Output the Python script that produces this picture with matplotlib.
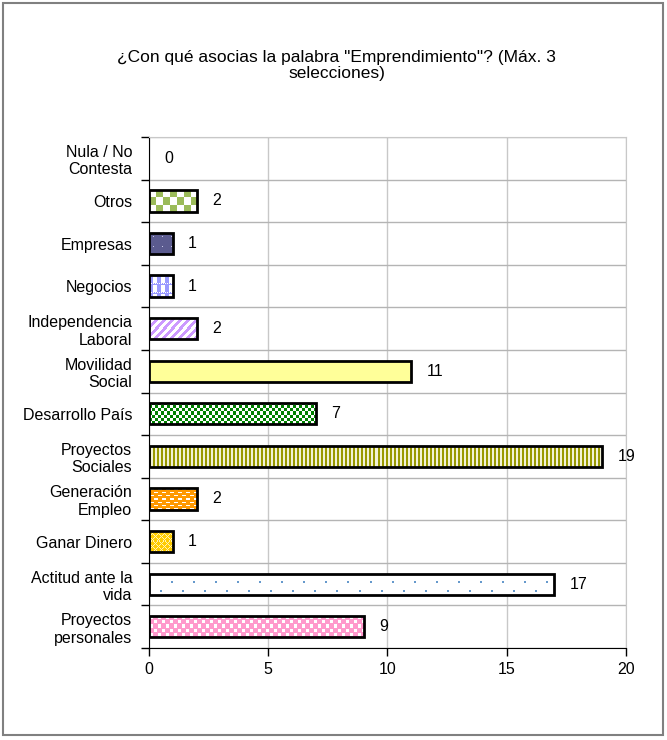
import matplotlib
matplotlib.use("Agg")
import matplotlib.pyplot as plt
from matplotlib.patches import Rectangle
from matplotlib.colors import to_rgb
import numpy as np

plt.rcParams['font.family'] = ['Liberation Sans', 'DejaVu Sans']

title = '¿Con qué asocias la palabra "Emprendimiento"? (Máx. 3\nselecciones)'

# top to bottom, as in the picture
categories = ["Nula / No\nContesta", "Otros", "Empresas", "Negocios",
              "Independencia\nLaboral", "Movilidad\nSocial", "Desarrollo País",
              "Proyectos\nSociales", "Generación\nEmpleo", "Ganar Dinero",
              "Actitud ante la\nvida", "Proyectos\npersonales"]
counts = [0, 2, 1, 1, 2, 11, 7, 19, 2, 1, 17, 9]


# small pixel tiles to imitate the Excel pattern fills
def checker(n):
    i, j = np.indices((2 * n, 2 * n))
    return ((i // n + j // n) % 2).astype(float)


def tile_empresas():
    m = np.zeros((9, 9))
    m[4, 4] = 1
    return m


def tile_negocios():
    m = np.zeros((8, 8))
    m[2:, 4:8] = 1
    m[0, ::2] = 1
    return m


def tile_diag():
    i, j = np.indices((8, 8))
    return (((i + j) % 8) < 4).astype(float)


def tile_vstripes():
    i, j = np.indices((4, 4))
    return ((j % 4) < 2).astype(float)


def tile_bricks():
    m = np.zeros((6, 8))
    m[1, 1:5] = 1
    m[4, 5:8] = 1
    m[4, 0] = 1
    return m


def tile_lattice():
    i, j = np.indices((6, 6))
    return (((i + j) % 6 == 0) | ((i - j) % 6 == 0)).astype(float)


def tile_dots():
    m = np.zeros((24, 22))
    m[8:10, 0:2] = 1
    m[16:18, 11:13] = 1
    return m


def tile_squares():
    m = np.zeros((8, 8))
    m[1:4, 1:4] = 1
    m[5:8, 5:8] = 1
    return m


# (background, pattern colour, tile) per bar
fills = [
    ("white", "white", None),
    ("white", "#9BBB59", checker(7)),
    ("#5B5B8F", "#C8C8E6", tile_empresas()),
    ("#9999FF", "white", tile_negocios()),
    ("white", "#CC99FF", tile_diag()),
    ("#FFFF99", "#FFFF99", None),
    ("white", "#008000", checker(3)),
    ("#F2F2D6", "#999900", tile_vstripes()),
    ("#FF9900", "white", tile_bricks()),
    ("#FFCC00", "#FFF3B8", tile_lattice()),
    ("white", "#6699CC", tile_dots()),
    ("#FF99CC", "white", tile_squares()),
]

fig = plt.figure(figsize=(6.67, 7.4), dpi=100)
ax = fig.add_axes([0.2234, 0.1243, 0.7151, 0.6905])
ax.set_xlim(0, 20)
ax.set_ylim(len(categories) - 0.5, -0.5)

ypos = np.arange(len(categories))
bar_h = 0.5
for y, v, (bg, fg, tile) in zip(ypos, counts, fills):
    if v == 0:
        continue
    bars = ax.barh(y, v, height=bar_h, color=bg, linewidth=0, zorder=3)
    if tile is not None:
        x0, y0 = ax.transData.transform((0, y - bar_h / 2))
        x1, y1 = ax.transData.transform((v, y + bar_h / 2))
        w = int(round(abs(x1 - x0)))
        h = int(round(abs(y1 - y0)))
        reps = (h // tile.shape[0] + 2, w // tile.shape[1] + 2)
        mask = np.tile(tile, reps)[:h, :w]
        b, f = np.array(to_rgb(bg)), np.array(to_rgb(fg))
        img = b[None, None, :] * (1 - mask[:, :, None]) + f[None, None, :] * mask[:, :, None]
        im = ax.imshow(img, extent=(0, v, y + bar_h / 2, y - bar_h / 2),
                       interpolation="nearest", aspect="auto", zorder=3.5)
        im.set_clip_path(bars[0])
    ax.barh(y, v, height=bar_h, facecolor="none", edgecolor="black", linewidth=2, zorder=4)

for y, v in zip(ypos, counts):
    ax.annotate(str(v), (v, y), xytext=(11, 0), textcoords="offset points",
                va="center", ha="left", fontsize=11.5, annotation_clip=False)

ax.set_xlim(0, 20)
ax.set_ylim(len(categories) - 0.5, -0.5)
ax.set_aspect("auto")
ax.set_xticks([0, 5, 10, 15, 20])
ax.set_yticks(ypos)
ax.set_yticklabels(categories, fontsize=11.5, linespacing=1.2)
ax.set_yticks(np.arange(len(categories) + 1) - 0.5, minor=True)
ax.tick_params(axis="y", which="major", length=0, pad=12)
ax.tick_params(axis="y", which="minor", length=6, width=1, direction="out")
ax.tick_params(axis="x", length=6, width=1, direction="out", labelsize=11.5, pad=4)

ax.grid(axis="x", which="major", color="#C8C8C8", linewidth=1, zorder=0)
ax.grid(axis="y", which="minor", color="#B4B4B4", linewidth=1, zorder=0)
ax.set_axisbelow(True)

ax.spines["top"].set_color("#C8C8C8")
ax.spines["right"].set_color("#C8C8C8")
ax.spines["left"].set_color("black")
ax.spines["bottom"].set_color("black")

fig.text(0.505, 0.9115, title, ha="center", va="center", fontsize=12.5, linespacing=1.1)

fig.patches.append(Rectangle((0.005, 0.007), 0.989, 0.989, transform=fig.transFigure,
                             fill=False, edgecolor="#808080", linewidth=1.5))

plt.savefig("out.png", dpi=100)
